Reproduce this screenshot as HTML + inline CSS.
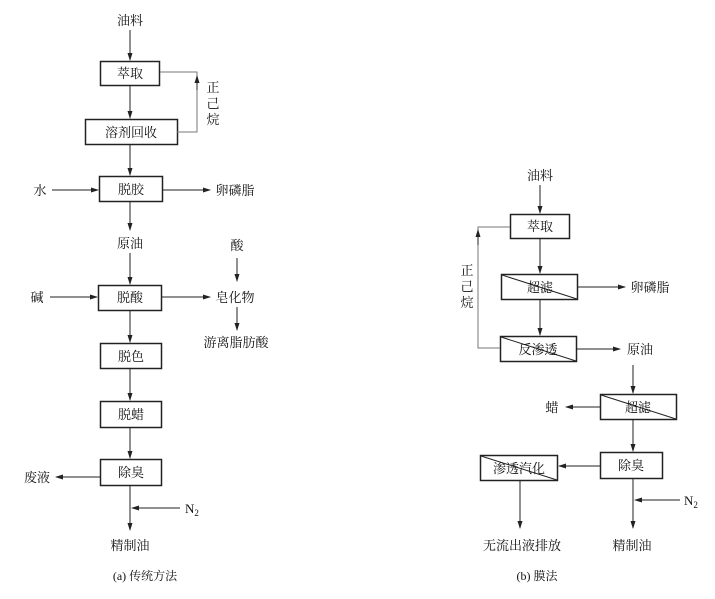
<!DOCTYPE html>
<html><head><meta charset="utf-8"><style>
html,body{margin:0;padding:0;background:#fff;}
svg text{font-family:"Liberation Serif","Noto Serif CJK SC","Noto Sans CJK SC",serif;font-size:13px;fill:#111;}
</style></head><body>
<svg width="715" height="594" viewBox="0 0 715 594" xmlns="http://www.w3.org/2000/svg">
<defs><marker id="a" markerWidth="8" markerHeight="6" refX="7" refY="3" orient="auto" markerUnits="userSpaceOnUse"><path d="M0,0.5 L8,3 L0,5.5 z" fill="#222"/></marker></defs>
<g stroke="#222" stroke-width="1" fill="none">
<!-- left -->
<line x1="130" y1="30" x2="130" y2="60" marker-end="url(#a)"/>
<rect x="100.5" y="61.5" width="59" height="24" stroke-width="1.5"/>
<line x1="130" y1="86" x2="130" y2="118" marker-end="url(#a)"/>
<rect x="85.5" y="119.5" width="92" height="25" stroke-width="1.5"/>
<polyline points="177,132 197,132 197,72 160,72" stroke="#777"/>
<line x1="197" y1="90" x2="197" y2="76" marker-end="url(#a)"/>
<line x1="130" y1="145" x2="130" y2="175" marker-end="url(#a)"/>
<rect x="99.5" y="176.5" width="63" height="25" stroke-width="1.5"/>
<line x1="52" y1="190" x2="98" y2="190" marker-end="url(#a)"/>
<line x1="163" y1="190" x2="210" y2="190" marker-end="url(#a)"/>
<line x1="130" y1="202" x2="130" y2="230" marker-end="url(#a)"/>
<line x1="130" y1="253" x2="130" y2="284" marker-end="url(#a)"/>
<rect x="98.5" y="285.5" width="63" height="25" stroke-width="1.5"/>
<line x1="50" y1="297" x2="97" y2="297" marker-end="url(#a)"/>
<line x1="162" y1="297" x2="210" y2="297" marker-end="url(#a)"/>
<line x1="237" y1="258" x2="237" y2="281" marker-end="url(#a)"/>
<line x1="237" y1="307" x2="237" y2="330" marker-end="url(#a)"/>
<line x1="130" y1="311" x2="130" y2="342" marker-end="url(#a)"/>
<rect x="100.5" y="343.5" width="61" height="25" stroke-width="1.5"/>
<line x1="130" y1="369" x2="130" y2="400" marker-end="url(#a)"/>
<rect x="100.5" y="401.5" width="61" height="26" stroke-width="1.5"/>
<line x1="130" y1="428" x2="130" y2="458" marker-end="url(#a)"/>
<rect x="100.5" y="459.5" width="61" height="26" stroke-width="1.5"/>
<line x1="100" y1="477" x2="56" y2="477" marker-end="url(#a)"/>
<line x1="180" y1="508" x2="132" y2="508" marker-end="url(#a)"/>
<line x1="130" y1="486" x2="130" y2="530" marker-end="url(#a)"/>
<!-- right -->
<line x1="540" y1="185" x2="540" y2="213" marker-end="url(#a)"/>
<rect x="510.5" y="214.5" width="59" height="24" stroke-width="1.5"/>
<line x1="540" y1="239" x2="540" y2="273" marker-end="url(#a)"/>
<rect x="501.5" y="274.5" width="76" height="25" stroke-width="1.5"/>
<line x1="502" y1="275" x2="577" y2="299"/>
<line x1="578" y1="287" x2="625" y2="287" marker-end="url(#a)"/>
<line x1="540" y1="300" x2="540" y2="335" marker-end="url(#a)"/>
<rect x="500.5" y="336.5" width="76" height="25" stroke-width="1.5"/>
<line x1="501" y1="337" x2="576" y2="361"/>
<line x1="577" y1="349" x2="620" y2="349" marker-end="url(#a)"/>
<polyline points="500,348 478,348 478,227 510,227" stroke="#777"/>
<line x1="478" y1="245" x2="478" y2="230" marker-end="url(#a)"/>
<line x1="633" y1="365" x2="633" y2="393" marker-end="url(#a)"/>
<rect x="600.5" y="394.5" width="76" height="25" stroke-width="1.5"/>
<line x1="601" y1="395" x2="676" y2="419"/>
<line x1="600" y1="407" x2="566" y2="407" marker-end="url(#a)"/>
<line x1="633" y1="420" x2="633" y2="451" marker-end="url(#a)"/>
<rect x="600.5" y="452.5" width="62" height="26" stroke-width="1.5"/>
<rect x="480.5" y="455.5" width="77" height="25" stroke-width="1.5"/>
<line x1="481" y1="456" x2="557" y2="480"/>
<line x1="600" y1="466" x2="559" y2="466" marker-end="url(#a)"/>
<line x1="520" y1="481" x2="520" y2="528" marker-end="url(#a)"/>
<line x1="680" y1="500" x2="635" y2="500" marker-end="url(#a)"/>
<line x1="633" y1="479" x2="633" y2="528" marker-end="url(#a)"/>
</g>
<g text-anchor="middle">
<text x="130" y="25">油料</text>
<text x="130" y="78">萃取</text>
<text x="131" y="137">溶剂回收</text>
<text x="213" y="92">正</text><text x="213" y="108">己</text><text x="213" y="124">烷</text>
<text x="40" y="195">水</text>
<text x="131" y="194">脱胶</text>
<text x="235" y="195">卵磷脂</text>
<text x="130" y="248">原油</text>
<text x="237" y="250">酸</text>
<text x="37" y="302">碱</text>
<text x="130" y="302">脱酸</text>
<text x="235" y="302">皂化物</text>
<text x="236" y="347">游离脂肪酸</text>
<text x="131" y="361">脱色</text>
<text x="131" y="419">脱蜡</text>
<text x="131" y="477">除臭</text>
<text x="37" y="482">废液</text>
<text x="130" y="550">精制油</text>
<text x="145" y="580" style="font-size:12px">(a) 传统方法</text>
<text x="540" y="180">油料</text>
<text x="540" y="231">萃取</text>
<text x="540" y="292">超滤</text>
<text x="650" y="292">卵磷脂</text>
<text x="538" y="354">反渗透</text>
<text x="640" y="354">原油</text>
<text x="467" y="275">正</text><text x="467" y="291">己</text><text x="467" y="307">烷</text>
<text x="638" y="412">超滤</text>
<text x="552" y="412">蜡</text>
<text x="631" y="470">除臭</text>
<text x="519" y="473">渗透汽化</text>
<text x="522" y="550">无流出液排放</text>
<text x="632" y="550">精制油</text>
<text x="537" y="580" style="font-size:12px">(b) 膜法</text>
</g>
<text x="185" y="513">N<tspan font-size="9" dy="3">2</tspan></text>
<text x="684" y="505">N<tspan font-size="9" dy="3">2</tspan></text>
</svg>
</body></html>
